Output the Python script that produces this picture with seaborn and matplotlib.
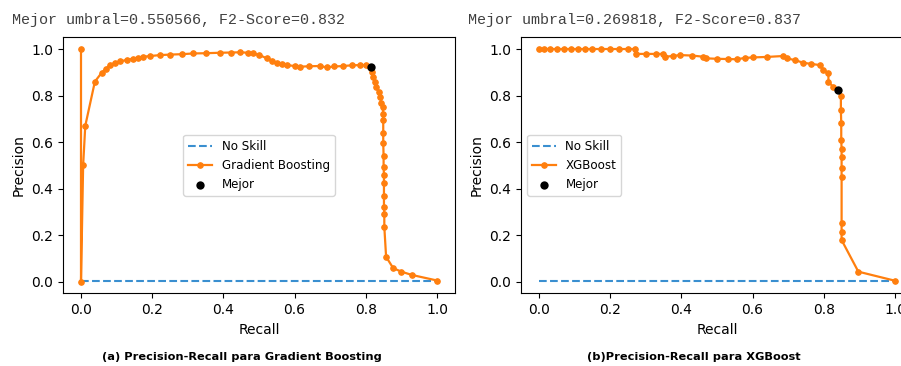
import numpy as np
import pandas as pd
import seaborn as sns
import matplotlib.pyplot as plt

# --- DATA: precision-recall curves ---
gb_recall = [0.000, 0.000, 0.006, 0.012, 0.039, 0.058, 0.070, 0.081, 0.095, 0.110,
             0.128, 0.145, 0.160, 0.175, 0.195, 0.222, 0.250, 0.285, 0.316, 0.350,
             0.390, 0.420, 0.447, 0.470, 0.484, 0.500, 0.522, 0.537, 0.550, 0.565,
             0.578, 0.600, 0.615, 0.640, 0.671, 0.690, 0.712, 0.737, 0.760, 0.784,
             0.800, 0.812, 0.815, 0.818, 0.821, 0.825, 0.830, 0.836, 0.840, 0.844,
             0.847, 0.849, 0.849, 0.849, 0.849, 0.850, 0.850, 0.851, 0.851, 0.851,
             0.851, 0.852, 0.852, 0.857, 0.877, 0.900, 0.929, 1.000]
gb_precision = [1.000, 0.000, 0.500, 0.670, 0.860, 0.898, 0.915, 0.931, 0.940, 0.947,
                0.953, 0.958, 0.963, 0.967, 0.970, 0.974, 0.976, 0.978, 0.981, 0.982,
                0.984, 0.985, 0.986, 0.984, 0.981, 0.975, 0.960, 0.950, 0.939, 0.934,
                0.931, 0.927, 0.924, 0.926, 0.927, 0.921, 0.925, 0.927, 0.930, 0.931,
                0.930, 0.924, 0.921, 0.900, 0.881, 0.860, 0.838, 0.815, 0.795, 0.770,
                0.752, 0.720, 0.695, 0.640, 0.595, 0.540, 0.494, 0.460, 0.423, 0.370,
                0.322, 0.290, 0.236, 0.107, 0.058, 0.043, 0.029, 0.005]
gb_best = (0.815, 0.921)

xgb_recall = [0.000, 0.015, 0.030, 0.050, 0.070, 0.090, 0.110, 0.130, 0.150, 0.175,
              0.200, 0.225, 0.250, 0.270, 0.272, 0.300, 0.330, 0.349, 0.354, 0.375,
              0.396, 0.430, 0.461, 0.470, 0.500, 0.530, 0.555, 0.580, 0.602, 0.640,
              0.686, 0.696, 0.720, 0.742, 0.765, 0.789, 0.799, 0.813, 0.813, 0.826,
              0.840, 0.848, 0.848, 0.849, 0.849, 0.850, 0.850, 0.850, 0.850, 0.850,
              0.850, 0.850, 0.897, 1.000]
xgb_precision = [1.000, 1.000, 1.000, 1.000, 1.000, 1.000, 1.000, 1.000, 1.000, 1.000,
                 1.000, 1.000, 1.000, 1.000, 0.979, 0.979, 0.979, 0.979, 0.967, 0.970,
                 0.974, 0.972, 0.967, 0.960, 0.958, 0.957, 0.956, 0.962, 0.964, 0.966,
                 0.970, 0.960, 0.952, 0.941, 0.936, 0.931, 0.910, 0.896, 0.859, 0.838,
                 0.825, 0.800, 0.737, 0.680, 0.609, 0.570, 0.537, 0.490, 0.451, 0.251,
                 0.215, 0.179, 0.043, 0.004]
xgb_best = (0.840, 0.825)

no_skill_x = [0.0, 1.0]
no_skill_y = [0.003, 0.003]

titles = ["Mejor umbral=0.550566, F2-Score=0.832",
          "Mejor umbral=0.269818, F2-Score=0.837"]
captions = ["(a) Precision-Recall para Gradient Boosting",
            "(b)Precision-Recall para XGBoost"]
models = ["Gradient Boosting", "XGBoost"]

fig = plt.figure(figsize=(9.01, 3.66), dpi=100)
W, H = 901, 366
ax1 = fig.add_axes([63.2 / W, 1 - 293.3 / H, 391.6 / W, 255.9 / H])
ax2 = fig.add_axes([521.2 / W, 1 - 293.3 / H, 391.6 / W, 255.9 / H])

curves = [(gb_recall, gb_precision, gb_best), (xgb_recall, xgb_precision, xgb_best)]
for ax, (rec, prec, best), name in zip([ax1, ax2], curves, models):
    sns.lineplot(x=no_skill_x, y=no_skill_y, ax=ax, color='#3a8fd0', linestyle='--',
                 linewidth=1.5, label='No Skill')
    df = pd.DataFrame({'Recall': rec, 'Precision': prec})
    sns.lineplot(data=df, x='Recall', y='Precision', ax=ax, sort=False, estimator=None,
                 color='#ff7f0e', marker='.', markersize=8, markeredgecolor='#ff7f0e',
                 linewidth=1.6, label=name)
    sns.scatterplot(x=[best[0]], y=[best[1]], ax=ax, color='black', s=36,
                    linewidth=0, zorder=5, label='Mejor')
    ax.set_xlim(-0.05, 1.05)
    ax.set_ylim(-0.05, 1.05)
    ax.set_xticks([0.0, 0.2, 0.4, 0.6, 0.8, 1.0])
    ax.set_yticks([0.0, 0.2, 0.4, 0.6, 0.8, 1.0])
    ax.set_xlabel('Recall')
    ax.set_ylabel('Precision')

ax1.legend(loc='center', fontsize=8.6)
ax2.legend(loc='center left', fontsize=8.6)

mono = ['Liberation Mono', 'DejaVu Sans Mono']
fig.text(12 / W, 1 - 20 / H, titles[0], family=mono, fontsize=10.8, color='#404040',
         va='center', ha='left')
fig.text(468 / W, 1 - 20 / H, titles[1], family=mono, fontsize=10.8, color='#404040',
         va='center', ha='left')

cap_font = ['Liberation Sans Narrow', 'DejaVu Sans']
fig.text(242 / W, 1 - 357 / H, captions[0], family=cap_font, fontweight='bold',
         fontsize=8.2, ha='center', va='center')
fig.text(694 / W, 1 - 357 / H, captions[1], family=cap_font, fontweight='bold',
         fontsize=8.2, ha='center', va='center')

fig.savefig('out.png', dpi=100)
